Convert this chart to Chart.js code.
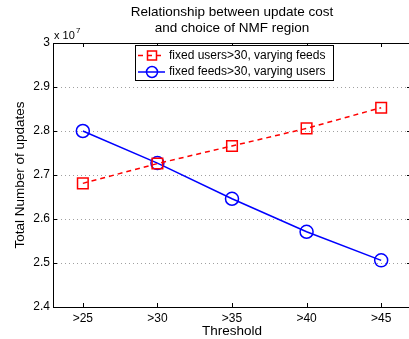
<!DOCTYPE html>
<html>
<head>
<meta charset="utf-8">
<script src="https://cdn.jsdelivr.net/npm/chart.js@4/dist/chart.umd.min.js"></script>
<style>
html,body{margin:0;padding:0;background:#fff;overflow:hidden;width:409px;height:339px;}
canvas{display:block;}
</style>
</head>
<body>
<canvas id="c" width="420" height="339"></canvas>
<script>
const thresholds = ['>25', '>30', '>35', '>40', '>45'];
const fixedUsers = [26810000, 27260000, 27660000, 28060000, 28530000];
const fixedFeeds = [28000000, 27270000, 26460000, 25710000, 25060000];
const seriesLabels = ['fixed users>30, varying feeds', 'fixed feeds>30, varying users'];
const titleLines = ['Relationship between update cost', 'and choice of NMF region'];
const FONT = '"Liberation Sans", Arial, sans-serif';

const toPts = arr => arr.map((v, i) => ({x: i + 1, y: v}));

const matlabPlugin = {
  id: 'matlab',
  beforeDatasetsDraw(chart) {
    const {ctx, chartArea: a, scales: {x, y}} = chart;
    ctx.save();
    ctx.strokeStyle = '#a0a0a0';
    ctx.lineWidth = 1;
    ctx.setLineDash([1, 3]);
    y.ticks.forEach(t => {
      const py = Math.round(y.getPixelForValue(t.value)) + 0.5;
      if (py <= a.top + 1 || py >= a.bottom - 1) return;
      ctx.beginPath(); ctx.moveTo(a.left, py); ctx.lineTo(a.right, py); ctx.stroke();
    });
    ctx.restore();
  },
  afterDraw(chart) {
    const {ctx, chartArea: a, scales: {x, y}} = chart;
    ctx.save();
    ctx.strokeStyle = '#000'; ctx.lineWidth = 1; ctx.setLineDash([]);
    ctx.strokeRect(Math.round(a.left) + 0.5, Math.round(a.top) + 0.5, Math.round(a.right - a.left), Math.round(a.bottom - a.top));
    ctx.beginPath();
    x.ticks.forEach(t => {
      const px = Math.round(x.getPixelForValue(t.value)) + 0.5;
      ctx.moveTo(px, a.bottom); ctx.lineTo(px, a.bottom - 4);
      ctx.moveTo(px, a.top); ctx.lineTo(px, a.top + 4);
    });
    y.ticks.forEach(t => {
      const py = Math.round(y.getPixelForValue(t.value)) + 0.5;
      ctx.moveTo(a.left, py); ctx.lineTo(a.left + 4, py);
      ctx.moveTo(a.right, py); ctx.lineTo(a.right - 4, py);
    });
    ctx.stroke();
    // title
    ctx.fillStyle = '#000';
    ctx.font = '13.5px ' + FONT;
    ctx.textAlign = 'center'; ctx.textBaseline = 'middle';
    const cx = (a.left + a.right) / 2;
    ctx.fillText(titleLines[0], cx, 12);
    ctx.fillText(titleLines[1], cx, 28);
    // exponent label
    ctx.textAlign = 'left';
    ctx.font = '11px ' + FONT;
    ctx.fillText('x 10', a.left + 1, 36);
    ctx.font = '8px ' + FONT;
    ctx.fillText('7', a.left + 23, 31);
    // legend
    const lx = 135, ly = 45, lw = 198, lh = 35;
    ctx.fillStyle = '#fff';
    ctx.fillRect(lx, ly, lw, lh);
    ctx.strokeStyle = '#000'; ctx.lineWidth = 1;
    ctx.strokeRect(lx + 0.5, ly + 0.5, lw, lh);
    chart.data.datasets.forEach((ds, i) => {
      const ry = ly + 10.5 + i * 16.5;
      ctx.strokeStyle = ds.borderColor;
      ctx.lineWidth = 1.5;
      ctx.setLineDash(ds.borderDash || []);
      ctx.beginPath(); ctx.moveTo(lx + 3, ry); ctx.lineTo(lx + 30, ry); ctx.stroke();
      ctx.setLineDash([]);
      ctx.beginPath();
      if (ds.pointStyle === 'rect') {
        ctx.rect(lx + 12.5, ry - 4.5, 9, 9);
      } else {
        ctx.arc(lx + 17, ry, 5.5, 0, Math.PI * 2);
      }
      ctx.stroke();
      ctx.fillStyle = '#000';
      ctx.font = '12px ' + FONT;
      ctx.textAlign = 'left';
      ctx.fillText(ds.label, lx + 34, ry);
    });
    ctx.restore();
  }
};

new Chart(document.getElementById('c'), {
  type: 'line',
  data: {
    datasets: [
      {
        label: seriesLabels[0],
        data: toPts(fixedUsers),
        borderColor: '#ff0000',
        borderWidth: 1.5,
        borderDash: [5, 4],
        pointStyle: 'rect',
        pointRadius: 7.5,
        pointBorderWidth: 1.5,
        pointBorderColor: '#ff0000',
        pointBackgroundColor: 'rgba(0,0,0,0)',
        tension: 0
      },
      {
        label: seriesLabels[1],
        data: toPts(fixedFeeds),
        borderColor: '#0000ff',
        borderWidth: 1.5,
        pointStyle: 'circle',
        pointRadius: 6.5,
        pointBorderWidth: 1.5,
        pointBorderColor: '#0000ff',
        pointBackgroundColor: 'rgba(0,0,0,0)',
        tension: 0
      }
    ]
  },
  options: {
    responsive: false,
    animation: false,
    events: [],
    layout: {padding: {top: 43, right: 4, left: 0, bottom: 0}},
    plugins: {legend: {display: false}, title: {display: false}, tooltip: {enabled: false}},
    scales: {
      x: {
        type: 'linear',
        min: 0.6, max: 5.4,
        afterBuildTicks: s => { s.ticks = thresholds.map((_, i) => ({value: i + 1})); },
        afterFit: s => { s.height = 32; },
        grid: {display: false, drawTicks: false},
        border: {display: false},
        ticks: {
          color: '#000', padding: 4, maxRotation: 0, autoSkip: false,
          font: {family: FONT, size: 12},
          callback: v => thresholds[Math.round(v) - 1] || ''
        },
        title: {display: true, text: 'Threshold', color: '#000', font: {family: FONT, size: 13.5}, padding: {top: 0, bottom: 0}}
      },
      y: {
        min: 24000000, max: 30000000,
        afterFit: s => { s.width = 53; },
        grid: {display: false, drawTicks: false},
        border: {display: false},
        ticks: {
          color: '#000', padding: 3, stepSize: 1000000,
          font: {family: FONT, size: 12},
          callback: v => String(Math.round(v / 100000) / 100)
        },
        title: {display: true, text: 'Total Number of updates', color: '#000', font: {family: FONT, size: 13.5}, padding: {top: 12, bottom: 0}}
      }
    }
  },
  plugins: [matlabPlugin]
});
</script>
</body>
</html>
